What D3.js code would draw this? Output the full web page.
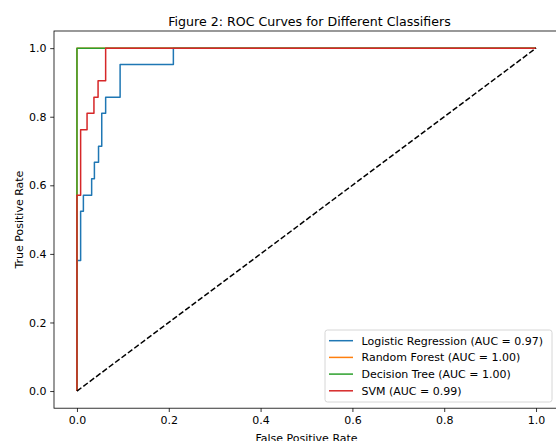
<!DOCTYPE html>
<html>
<head>
<meta charset="utf-8">
<script src="https://cdn.jsdelivr.net/npm/d3@7"></script>
<style>
  body { margin: 0; background: #fff; overflow: hidden; }
  svg { display: block; font-family: "DejaVu Sans", sans-serif; }
</style>
</head>
<body>
<svg id="chart" width="556" height="441"></svg>
<script>
// ROC points (FPR, TPR)
const fprLR = [0, 0, 0.008, 0.008, 0.014, 0.014, 0.032, 0.032, 0.038, 0.038, 0.047, 0.047, 0.054, 0.054, 0.0625, 0.0625, 0.094, 0.094, 0.21, 0.21, 1];
const tprLR = [0, 0.381, 0.381, 0.524, 0.524, 0.571, 0.571, 0.619, 0.619, 0.667, 0.667, 0.714, 0.714, 0.810, 0.810, 0.857, 0.857, 0.952, 0.952, 1, 1];
const fprRF = [0, 0, 1];
const tprRF = [0, 1, 1];
const fprDT = [0, 0, 1];
const tprDT = [0, 1, 1];
const fprSVM = [0, 0, 0.008, 0.008, 0.022, 0.022, 0.037, 0.037, 0.046, 0.046, 0.0625, 0.0625, 1];
const tprSVM = [0, 0.571, 0.571, 0.762, 0.762, 0.810, 0.810, 0.857, 0.857, 0.905, 0.905, 1, 1];

const names = ["Logistic Regression", "Random Forest", "Decision Tree", "SVM"];
const aucs = ["0.97", "1.00", "1.00", "0.99"];
const colors = ["#1f77b4", "#ff7f0e", "#2ca02c", "#d62728"];
const ticks = [0, 0.2, 0.4, 0.6, 0.8, 1.0];

const series = [[fprLR, tprLR], [fprRF, tprRF], [fprDT, tprDT], [fprSVM, tprSVM]];

const margin = {left: 54, top: 31};
const w = 505, h = 377.2;
const fs = 11;

const svg = d3.select("#chart");
const g = svg.append("g").attr("transform", `translate(${margin.left},${margin.top})`);

const x = d3.scaleLinear().domain([-0.05, 1.05]).range([0, w]);
const y = d3.scaleLinear().domain([-0.05, 1.05]).range([h, 0]);

const line = d3.line().x(d => x(d[0])).y(d => y(d[1]));

// curves
series.forEach((s, i) => {
  const pts = s[0].map((f, j) => [f, s[1][j]]);
  g.append("path")
    .attr("d", line(pts))
    .attr("fill", "none")
    .attr("stroke", colors[i])
    .attr("stroke-width", 1.5)
    .attr("stroke-linejoin", "round");
});

// chance line
g.append("path")
  .attr("d", line([[0, 0], [1, 1]]))
  .attr("fill", "none")
  .attr("stroke", "#000")
  .attr("stroke-width", 1.5)
  .attr("stroke-dasharray", "5.55,2.4");

// axes
const xAxis = g.append("g").attr("transform", `translate(0,${h})`)
  .call(d3.axisBottom(x).tickValues(ticks).tickFormat(d3.format(".1f")).tickSizeInner(3.8).tickSizeOuter(0).tickPadding(3.8));
const yAxis = g.append("g")
  .call(d3.axisLeft(y).tickValues(ticks).tickFormat(d3.format(".1f")).tickSizeInner(3.8).tickSizeOuter(0).tickPadding(3.8));
[xAxis, yAxis].forEach(a => {
  a.select(".domain").remove();
  a.selectAll(".tick line").attr("stroke", "#000").attr("stroke-width", 0.8);
  a.selectAll(".tick text").attr("font-size", fs).attr("fill", "#000").attr("font-family", "DejaVu Sans");
});

// spines
g.append("rect")
  .attr("x", 0).attr("y", 0).attr("width", w).attr("height", h)
  .attr("fill", "none").attr("stroke", "#000").attr("stroke-width", 0.8);

// labels
svg.append("text")
  .attr("x", margin.left + w / 2 + 3).attr("y", 25.5)
  .attr("text-anchor", "middle").attr("font-size", 12.6).attr("fill", "#000")
  .text("Figure 2: ROC Curves for Different Classifiers");
svg.append("text")
  .attr("x", margin.left + w / 2).attr("y", 442)
  .attr("text-anchor", "middle").attr("font-size", fs).attr("fill", "#000")
  .text("False Positive Rate");
svg.append("text")
  .attr("transform", `translate(22.5,${margin.top + h / 2}) rotate(-90)`)
  .attr("text-anchor", "middle").attr("font-size", fs).attr("fill", "#000")
  .text("True Positive Rate");

// legend
const leg = svg.append("g").attr("transform", "translate(325,330)");
leg.append("rect")
  .attr("x", 0).attr("y", 0).attr("width", 227).attr("height", 72)
  .attr("rx", 2.5).attr("fill", "#fff").attr("fill-opacity", 0.8)
  .attr("stroke", "#cccccc").attr("stroke-width", 0.8);
names.forEach((n, i) => {
  const yy = 10.7 + i * 16.7;
  leg.append("line")
    .attr("x1", 4).attr("x2", 28).attr("y1", yy).attr("y2", yy)
    .attr("stroke", colors[i]).attr("stroke-width", 1.5);
  leg.append("text")
    .attr("x", 36.5).attr("y", yy).attr("dy", "0.36em")
    .attr("font-size", fs).attr("fill", "#000")
    .text(`${n} (AUC = ${aucs[i]})`);
});
</script>
</body>
</html>
